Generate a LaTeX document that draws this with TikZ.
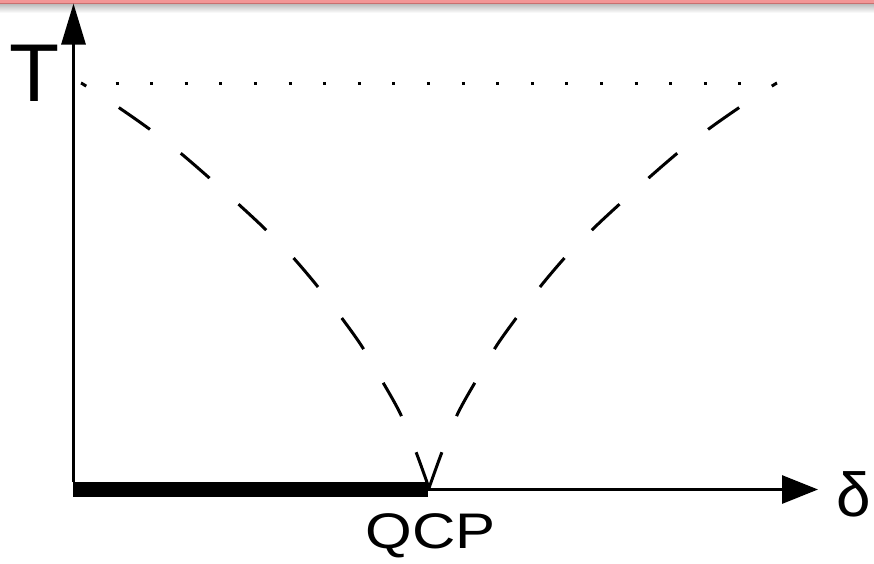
\documentclass[tikz,border=0pt]{standalone}
\usepackage{fontspec}
\usepackage{graphicx}
\setmainfont{Liberation Sans}
\usetikzlibrary{arrows.meta}
\definecolor{bandred}{RGB}{242,150,150}
\definecolor{banddark}{RGB}{200,112,112}
\definecolor{shadowgray}{RGB}{190,190,190}
\begin{document}
\begin{tikzpicture}[x=1pt,y=-1pt,
  axis/.style={line width=3pt, line cap=butt},
  critline/.style={line width=3pt, line cap=butt, dash pattern=on 38pt off 39pt},
  dotline/.style={line width=3pt, line cap=butt, dash pattern=on 3pt off 31.61pt},
  orderbar/.style={line width=15pt, line cap=butt},
  lbl/.style={anchor=base, inner sep=0pt}]
\useasboundingbox (0,0) rectangle (874,563);
% top band
\fill[bandred] (0,0) rectangle (874,3);
\fill[banddark] (0,3) rectangle (874,4.2);
\shade[top color=shadowgray, bottom color=white] (0,4.2) rectangle (874,13);
% coordinates
\coordinate (O) at (73.5,489.5);
\coordinate (Ybase) at (73.5,482);
\coordinate (Ytop) at (73.5,3.5);
\coordinate (Xend) at (818,489.5);
\coordinate (Bstart) at (73.3,489.3);
\coordinate (Bend) at (428.3,489.3);
\coordinate (QCP) at (429,488);
\coordinate (Dstart) at (115.5,83);
\coordinate (Dend) at (741.5,83);
% axes
\draw[axis, -{Triangle[length=41pt,width=24pt]}] (Ybase) -- (Ytop);
\draw[axis, -{Triangle[length=36pt,width=28pt]}] (O) -- (Xend);
\draw[orderbar] (Bstart) -- (Bend);
% dotted line
\draw[dotline] (Dstart) -- (Dend);
% crossover lines
\draw[critline] plot[smooth, tension=0.5] coordinates {(QCP) (416,452) (400,413) (381,379) (361,345) (338,313) (314,282) (289,253) (262,226) (235,201) (206,175) (178,151) (148,128) (118,107) (86,86) (81,83)};
\draw[critline] plot[smooth, tension=0.5] coordinates {(QCP) (442,452) (458,413) (477,379) (497,345) (520,313) (544,282) (569,253) (596,226) (623,201) (652,175) (680,151) (710,128) (740,107) (772,86) (777,83)};
% labels
\node[lbl, font=\fontsize{82}{82}\selectfont] (Tlabel) at (35,101) {T};
\node[lbl, font=\fontsize{62}{62}\selectfont] (dlabel) at (854,516) {δ};
\node[lbl, font=\fontsize{50}{50}\selectfont] (qcplabel) at (431,548) {\scalebox{1.2}[1]{QCP}};
\end{tikzpicture}
\end{document}
